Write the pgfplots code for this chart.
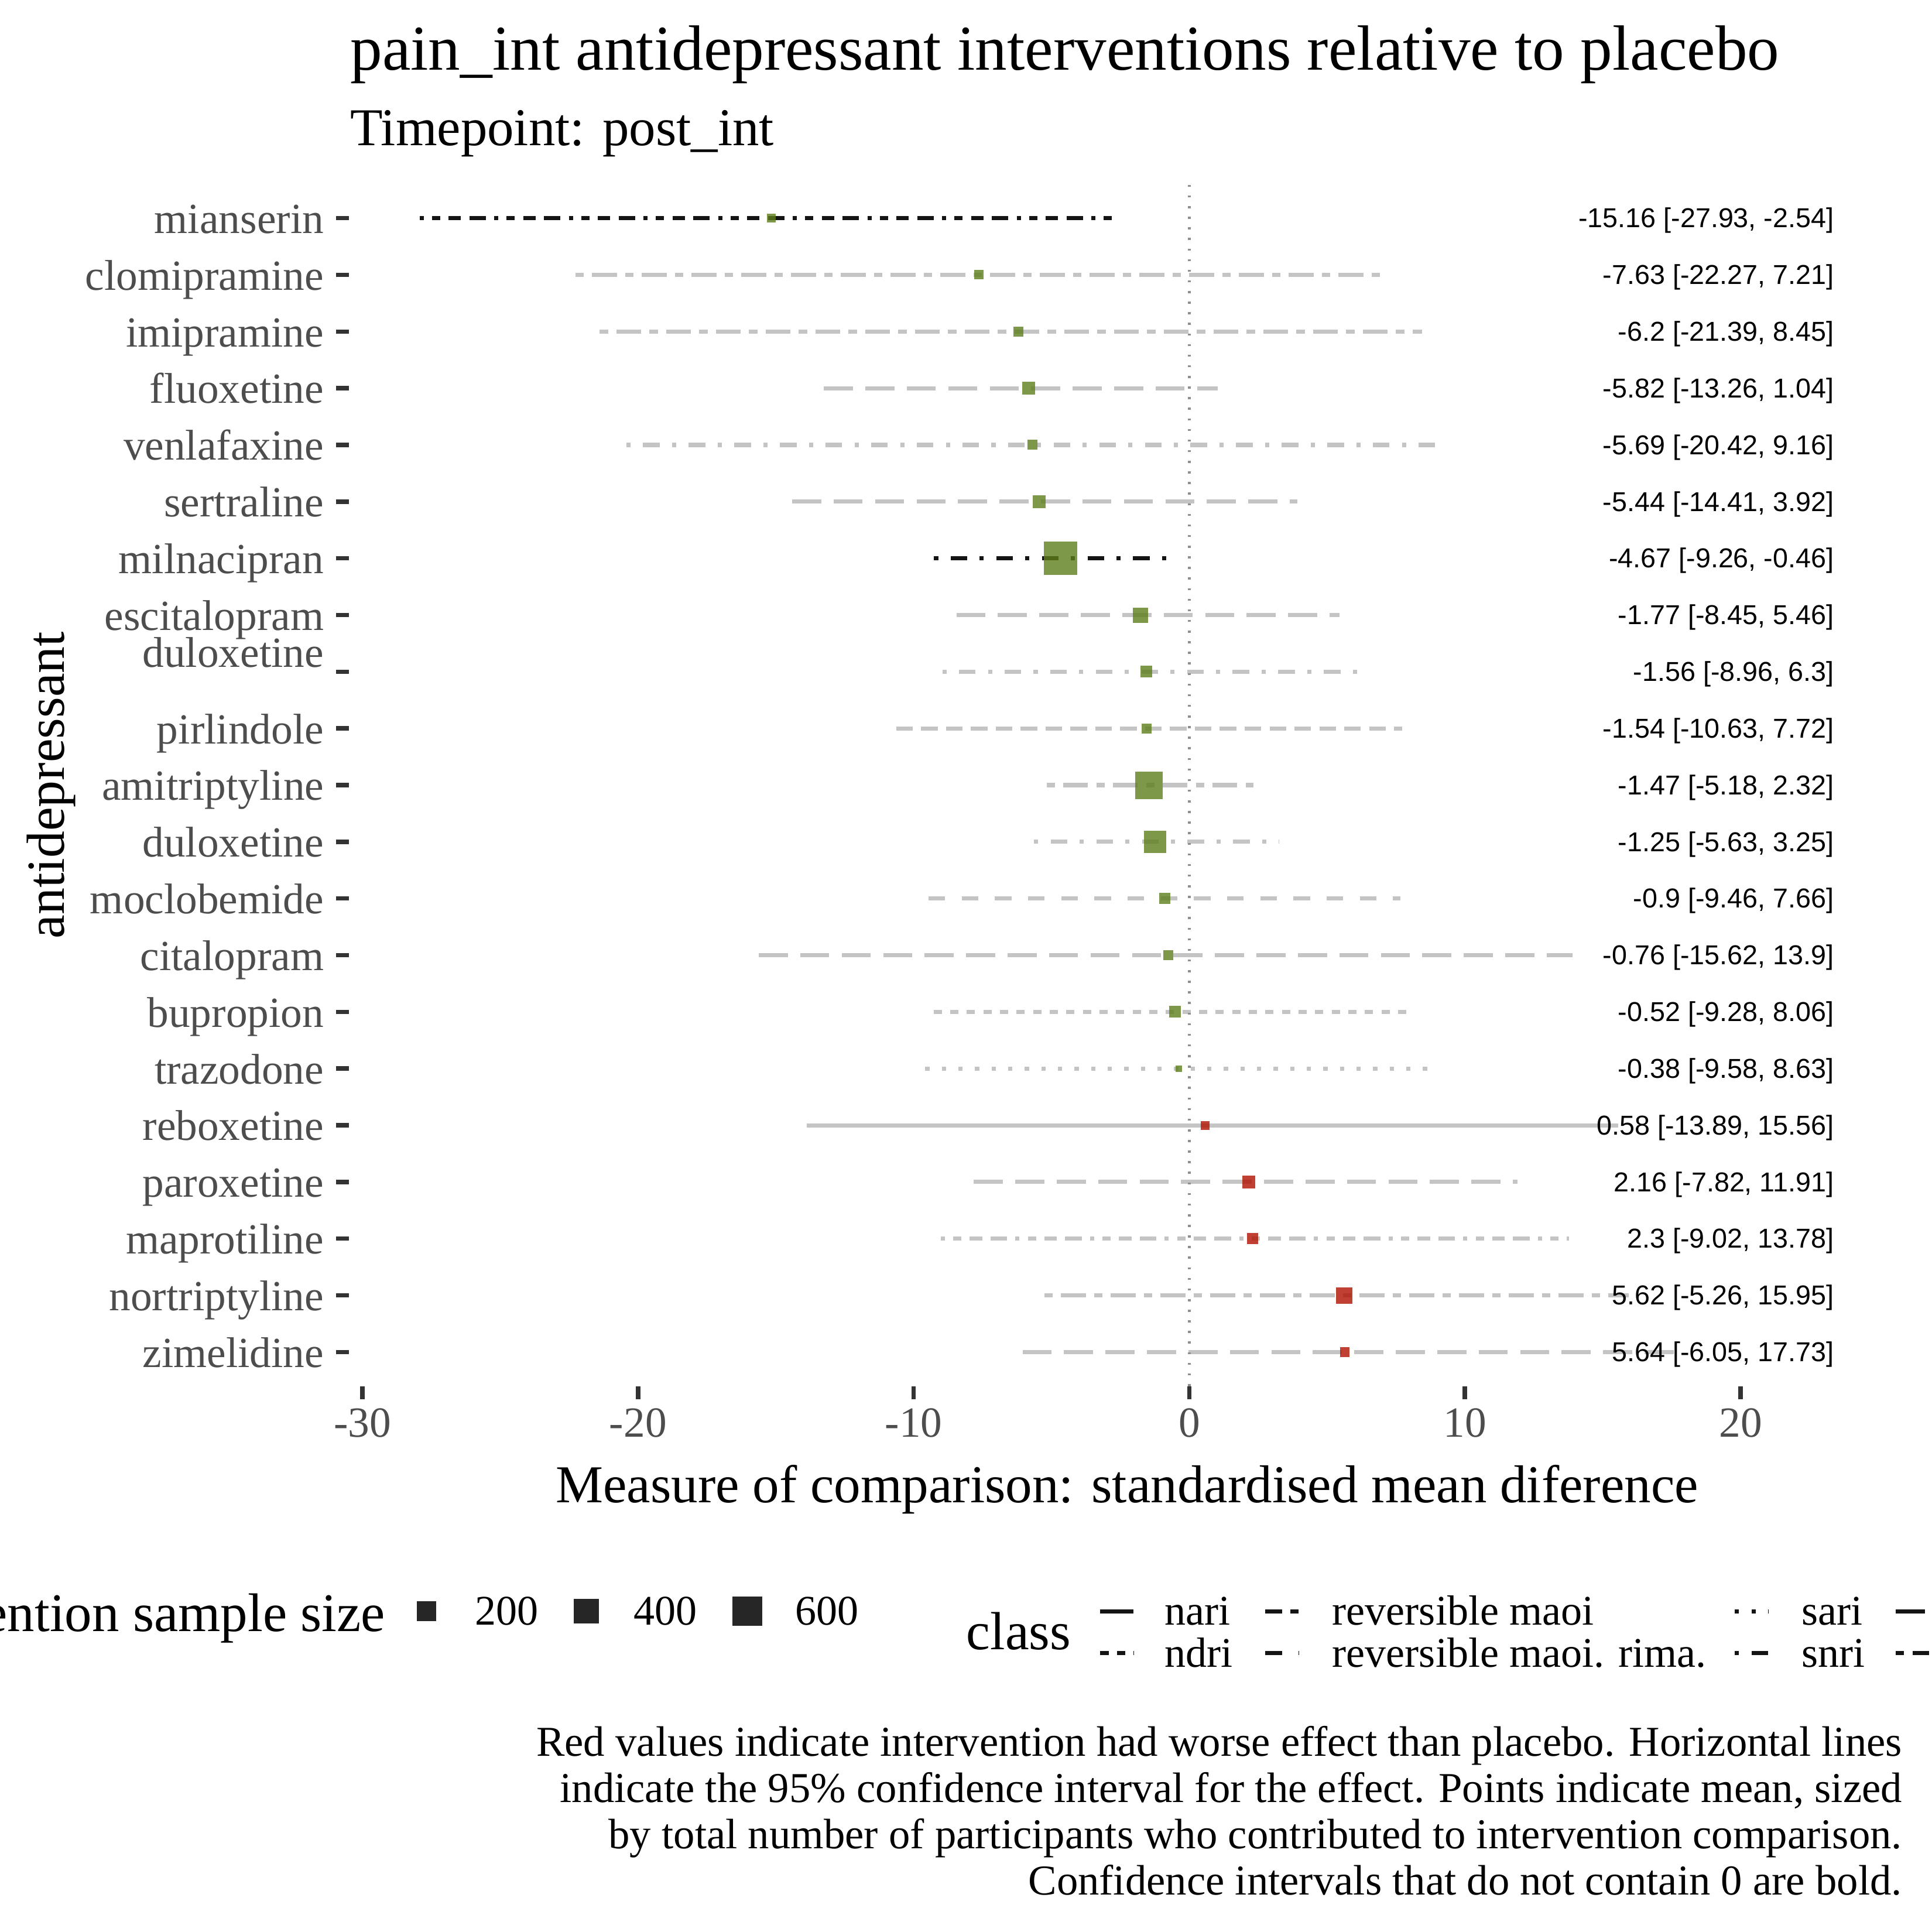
\documentclass[border=0pt]{standalone}
\usepackage{pgfplots}
\pgfplotsset{compat=1.18}
\usepackage{fontspec}
\setmainfont{Liberation Serif}
\newfontfamily\valfont{Liberation Sans}
\definecolor{tickgrey}{HTML}{4D4D4D}
\definecolor{tickdark}{HTML}{333333}
\definecolor{cigrey}{HTML}{C4C4C4}
\definecolor{ciblack}{HTML}{141414}
\definecolor{ptgreen}{RGB}{93,126,26}
\definecolor{ptred}{RGB}{176,16,1}
\definecolor{zeroline}{HTML}{8F8F8F}
\definecolor{keygrey}{HTML}{262626}
\tikzset{
  lt22/.style={dash pattern=on 3.4pt off 3.4pt},
  lt42/.style={dash pattern=on 6.8pt off 3.4pt},
  lt44/.style={dash pattern=on 6.8pt off 6.8pt},
  lt13/.style={dash pattern=on 1.7pt off 5.1pt},
  lt1343/.style={dash pattern=on 1.7pt off 5.1pt on 6.8pt off 5.1pt},
  lt73/.style={dash pattern=on 11.9pt off 5.1pt},
  lt2262/.style={dash pattern=on 3.4pt off 3.4pt on 10.2pt off 3.4pt},
  lt12223242/.style={dash pattern=on 1.7pt off 3.4pt on 3.4pt off 3.4pt on 5.1pt off 3.4pt on 6.8pt off 3.4pt},
}
\pgfplotsset{
  ci/.style={line width=1.7pt, color=cigrey},
  cib/.style={line width=1.7pt, color=ciblack},
  pg/.style={only marks, mark=square*, color=ptgreen, mark options={solid, line width=0pt, draw opacity=0, fill=ptgreen, fill opacity=0.8}},
  pr/.style={only marks, mark=square*, color=ptred, mark options={solid, line width=0pt, draw opacity=0, fill=ptred, fill opacity=0.8}},
}
\newcommand{\vlab}{\fontsize{11.2}{13}\valfont}
\newcommand{\legfont}{\fontsize{17.3}{20}\selectfont}
\newcommand{\capfont}{\fontsize{17.45}{20}\selectfont}
\begin{document}
\begin{tikzpicture}
\begin{scope}[x=0.5051pt,y=-0.5051pt]
\path[use as bounding box] (0,0) rectangle (1568,1568);
% titles
\node[anchor=base west, inner sep=0pt, font=\fontsize{26.2}{30}\selectfont] at (284,56.7) {pain\_int antidepressant interventions relative to placebo};
\node[anchor=base west, inner sep=0pt, font=\fontsize{21.8}{26}\selectfont] at (284,118) {Timepoint: post\_int};
\node[anchor=base, inner sep=0pt, font=\fontsize{21.85}{26}\selectfont] at (914.7,1219.6) {Measure of comparison: standardised mean diference};
\node[anchor=base, inner sep=0pt, rotate=90, font=\fontsize{22}{26}\selectfont] at (52,637.2) {antidepressant};
% size legend
\node[anchor=base east, inner sep=0pt, font=\fontsize{22.3}{26}\selectfont] at (313,1324) {intervention sample size};
\fill[keygrey] (346-7.85,1307.6-7.85) rectangle ++(15.7,15.7);
\fill[keygrey] (476-10.2,1307.6-10.2) rectangle ++(20.4,20.4);
\fill[keygrey] (606.5-12.1,1307.6-12.1) rectangle ++(24.2,24.2);
\node[anchor=base west, inner sep=0pt, font=\legfont] at (385,1319) {200};
\node[anchor=base west, inner sep=0pt, font=\legfont] at (514,1319) {400};
\node[anchor=base west, inner sep=0pt, font=\legfont] at (645,1319) {600};
% class legend
\node[anchor=base west, inner sep=0pt, font=\fontsize{22}{26}\selectfont] at (784,1338.6) {class};
\begin{scope}[line width=1.7pt, color=ciblack]
\draw (893,1307.7) -- (920,1307.7);
\draw[lt22] (893,1341.5) -- (920,1341.5);
\draw[lt42] (1027,1307.7) -- (1054,1307.7);
\draw[lt44] (1027,1341.5) -- (1054,1341.5);
\draw[lt13] (1408,1307.7) -- (1435,1307.7);
\draw[lt1343] (1408,1341.5) -- (1435,1341.5);
\draw[lt73] (1538.6,1307.7) -- (1565.6,1307.7);
\draw[lt2262] (1538.6,1341.5) -- (1565.6,1341.5);
\end{scope}
\node[anchor=base west, inner sep=0pt, font=\legfont] at (945,1319) {nari};
\node[anchor=base west, inner sep=0pt, font=\legfont] at (945,1352.8) {ndri};
\node[anchor=base west, inner sep=0pt, font=\legfont] at (1081,1319) {reversible maoi};
\node[anchor=base west, inner sep=0pt, font=\legfont] at (1081,1352.8) {reversible maoi. rima.};
\node[anchor=base west, inner sep=0pt, font=\legfont] at (1462,1319) {sari};
\node[anchor=base west, inner sep=0pt, font=\legfont] at (1462,1352.8) {snri};
% caption
\node[anchor=base east, inner sep=0pt, font=\capfont] at (1544,1425) {Red values indicate intervention had worse effect than placebo. Horizontal lines};
\node[anchor=base east, inner sep=0pt, font=\capfont] at (1544,1462.7) {indicate the 95\% confidence interval for the effect. Points indicate mean, sized};
\node[anchor=base east, inner sep=0pt, font=\capfont] at (1544,1500.4) {by total number of participants who contributed to intervention comparison.};
\node[anchor=base east, inner sep=0pt, font=\capfont] at (1544,1538) {Confidence intervals that do not contain 0 are bold.};
\end{scope}
\begin{axis}[
  at={(143.15pt,-568.19pt)}, anchor=south west,
  scale only axis, width=637.7pt, height=492.7pt,
  xmin=-30.48, xmax=25.96, ymin=0.4, ymax=21.6,
  clip=false,
  axis line style={draw=none},
  tick pos=left, tick align=outside, major tick length=5.4pt,
  tick style={line width=1.8pt, color=tickdark},
  xtick={-30,-20,-10,0,10,20},
  xticklabels={-30,-20,-10,0,10,20},
  ytick={1,2,3,4,5,6,7,8,9,10,11,12,13,14,15,16,17,18,19,20,21},
  yticklabels={zimelidine,nortriptyline,maprotiline,paroxetine,reboxetine,trazodone,bupropion,citalopram,moclobemide,duloxetine,amitriptyline,pirlindole,\raisebox{8.1pt}{duloxetine},escitalopram,milnacipran,sertraline,venlafaxine,fluoxetine,imipramine,clomipramine,mianserin},
  xticklabel style={font=\fontsize{17.6}{20}\selectfont, text=tickgrey, anchor=base, inner sep=0pt, yshift=-15.4pt},
  yticklabel style={font=\fontsize{17.6}{20}\selectfont, text=tickgrey, anchor=base east, inner sep=0pt, xshift=-4.8pt, yshift=-6.2pt},
]
% confidence intervals
\addplot[cib, lt12223242] coordinates {(-27.93,21) (-2.54,21)};   % mianserin (teca)
\addplot[ci, lt2262] coordinates {(-22.27,20) (7.21,20)};          % clomipramine (tca)
\addplot[ci, lt2262] coordinates {(-21.39,19) (8.45,19)};          % imipramine (tca)
\addplot[ci, lt73] coordinates {(-13.26,18) (1.04,18)};            % fluoxetine (ssri)
\addplot[ci, lt1343] coordinates {(-20.42,17) (9.16,17)};          % venlafaxine (snri)
\addplot[ci, lt73] coordinates {(-14.41,16) (3.92,16)};            % sertraline (ssri)
\addplot[cib, lt1343] coordinates {(-9.26,15) (-0.46,15)};         % milnacipran (snri)
\addplot[ci, lt73] coordinates {(-8.45,14) (5.46,14)};             % escitalopram (ssri)
\addplot[ci, lt1343] coordinates {(-8.96,13) (6.3,13)};            % duloxetine (snri)
\addplot[ci, lt42] coordinates {(-10.63,12) (7.72,12)};            % pirlindole (reversible maoi)
\addplot[ci, lt2262] coordinates {(-5.18,11) (2.32,11)};           % amitriptyline (tca)
\addplot[ci, lt1343] coordinates {(-5.63,10) (3.25,10)};           % duloxetine (snri)
\addplot[ci, lt44] coordinates {(-9.46,9) (7.66,9)};               % moclobemide (rima)
\addplot[ci, lt73] coordinates {(-15.62,8) (13.9,8)};              % citalopram (ssri)
\addplot[ci, lt22] coordinates {(-9.28,7) (8.06,7)};               % bupropion (ndri)
\addplot[ci, lt13] coordinates {(-9.58,6) (8.63,6)};               % trazodone (sari)
\addplot[ci] coordinates {(-13.89,5) (15.56,5)};                   % reboxetine (nari)
\addplot[ci, lt73] coordinates {(-7.82,4) (11.91,4)};              % paroxetine (ssri)
\addplot[ci, lt12223242] coordinates {(-9.02,3) (13.78,3)};        % maprotiline (teca)
\addplot[ci, lt2262] coordinates {(-5.26,2) (15.95,2)};            % nortriptyline (tca)
\addplot[ci, lt73] coordinates {(-6.05,1) (17.73,1)};              % zimelidine (ssri)
% zero line
\addplot[color=zeroline, line width=1pt, dash pattern=on 0.85pt off 3.5pt] coordinates {(0,0.4) (0,21.6)};
% means
\addplot[pg, mark size=1.8pt]  coordinates {(-15.16,21)};
\addplot[pg, mark size=1.92pt] coordinates {(-7.63,20)};
\addplot[pg, mark size=2.04pt] coordinates {(-6.2,19)};
\addplot[pg, mark size=2.64pt] coordinates {(-5.82,18)};
\addplot[pg, mark size=2.04pt] coordinates {(-5.69,17)};
\addplot[pg, mark size=2.64pt] coordinates {(-5.44,16)};
\addplot[pg, mark size=6.84pt] coordinates {(-4.67,15)};
\addplot[pg, mark size=3.12pt] coordinates {(-1.77,14)};
\addplot[pg, mark size=2.4pt]  coordinates {(-1.56,13)};
\addplot[pg, mark size=2.04pt] coordinates {(-1.54,12)};
\addplot[pg, mark size=5.64pt] coordinates {(-1.47,11)};
\addplot[pg, mark size=4.56pt] coordinates {(-1.25,10)};
\addplot[pg, mark size=2.28pt] coordinates {(-0.9,9)};
\addplot[pg, mark size=2.04pt] coordinates {(-0.76,8)};
\addplot[pg, mark size=2.4pt]  coordinates {(-0.52,7)};
\addplot[pg, mark size=1.32pt] coordinates {(-0.38,6)};
\addplot[pr, mark size=1.8pt]  coordinates {(0.58,5)};
\addplot[pr, mark size=2.7pt]  coordinates {(2.16,4)};
\addplot[pr, mark size=2.28pt] coordinates {(2.3,3)};
\addplot[pr, mark size=3.36pt] coordinates {(5.62,2)};
\addplot[pr, mark size=1.98pt] coordinates {(5.64,1)};
% value labels
\begin{scope}[every node/.style={anchor=east, inner sep=0pt, font=\vlab, yshift=-1pt}]
\node at (axis cs:23.4,21) {-15.16 [-27.93, -2.54]};
\node at (axis cs:23.4,20) {-7.63 [-22.27, 7.21]};
\node at (axis cs:23.4,19) {-6.2 [-21.39, 8.45]};
\node at (axis cs:23.4,18) {-5.82 [-13.26, 1.04]};
\node at (axis cs:23.4,17) {-5.69 [-20.42, 9.16]};
\node at (axis cs:23.4,16) {-5.44 [-14.41, 3.92]};
\node at (axis cs:23.4,15) {-4.67 [-9.26, -0.46]};
\node at (axis cs:23.4,14) {-1.77 [-8.45, 5.46]};
\node at (axis cs:23.4,13) {-1.56 [-8.96, 6.3]};
\node at (axis cs:23.4,12) {-1.54 [-10.63, 7.72]};
\node at (axis cs:23.4,11) {-1.47 [-5.18, 2.32]};
\node at (axis cs:23.4,10) {-1.25 [-5.63, 3.25]};
\node at (axis cs:23.4,9) {-0.9 [-9.46, 7.66]};
\node at (axis cs:23.4,8) {-0.76 [-15.62, 13.9]};
\node at (axis cs:23.4,7) {-0.52 [-9.28, 8.06]};
\node at (axis cs:23.4,6) {-0.38 [-9.58, 8.63]};
\node at (axis cs:23.4,5) {0.58 [-13.89, 15.56]};
\node at (axis cs:23.4,4) {2.16 [-7.82, 11.91]};
\node at (axis cs:23.4,3) {2.3 [-9.02, 13.78]};
\node at (axis cs:23.4,2) {5.62 [-5.26, 15.95]};
\node at (axis cs:23.4,1) {5.64 [-6.05, 17.73]};
\end{scope}
\end{axis}
\end{tikzpicture}
\end{document}
